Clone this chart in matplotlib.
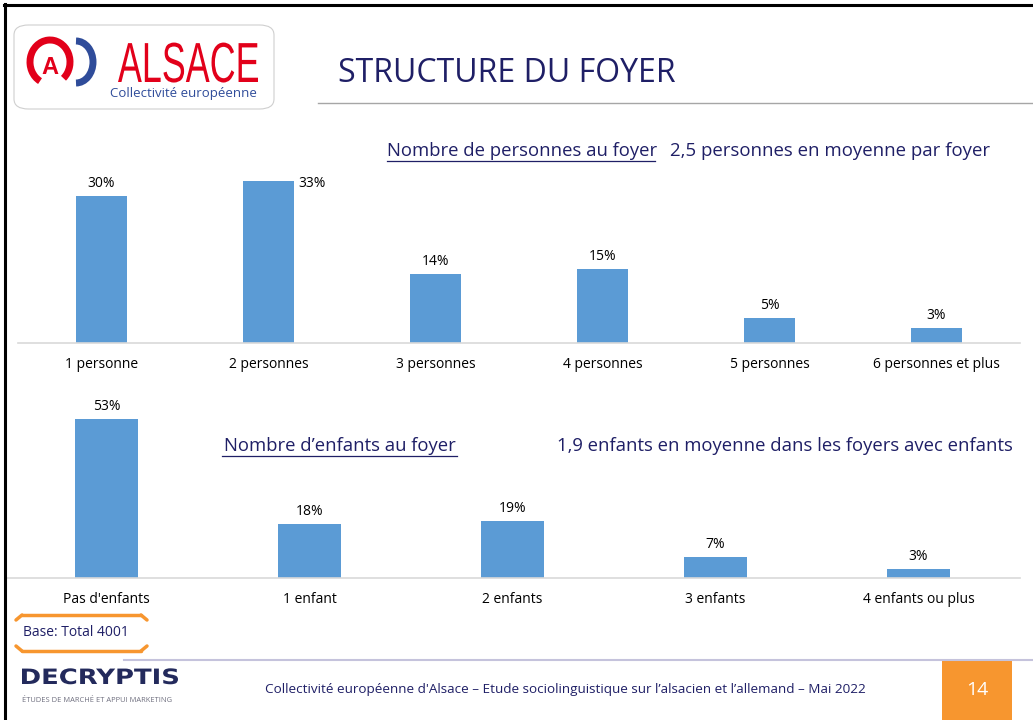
import matplotlib.pyplot as plt
from matplotlib.patches import FancyBboxPatch, Rectangle, Arc, PathPatch
from matplotlib.lines import Line2D
from matplotlib.textpath import TextPath
from matplotlib.font_manager import FontProperties
from matplotlib.transforms import Affine2D

# data
personnes_labels = ['1 personne', '2 personnes', '3 personnes', '4 personnes',
                    '5 personnes', '6 personnes et plus']
personnes_values = [30, 33, 14, 15, 5, 3]
enfants_labels = ["Pas d'enfants", '1 enfant', '2 enfants', '3 enfants', '4 enfants ou plus']
enfants_values = [53, 18, 19, 7, 3]

W, H = 1033, 720
NAVY = '#1f1f66'
BLUE = '#5b9bd5'
ORANGE = '#f7962f'
FONT = 'Open Sans'

plt.rcParams['font.family'] = [FONT, 'DejaVu Sans']

fig = plt.figure(figsize=(W / 100, H / 100), dpi=100)
fig.patch.set_facecolor('white')


def fx(x):
    return x / W


def fy(y):
    return 1 - y / H


def add_axes_px(x0, y0, x1, y1):
    # pixel box (top-left origin) -> figure axes
    return fig.add_axes([fx(x0), fy(y1), fx(x1 - x0), (y1 - y0) / H])


def stretched_text(s, x0, x1, y_top, y_base, color, family, weight='normal'):
    # text squeezed into a pixel box (for the logos)
    tp = TextPath((0, 0), s, size=1, prop=FontProperties(family=family, weight=weight))
    ext = tp.get_extents()
    sx = fx(x1 - x0) / ext.width
    sy = ((y_base - y_top) / H) / ext.height
    tr = Affine2D().translate(-ext.x0, 0).scale(sx, sy).translate(fx(x0), fy(y_base))
    fig.add_artist(PathPatch(tp, transform=tr + fig.transFigure, fc=color, ec='none', lw=0))


def bar_chart(ax, labels, values, width, ymax, label_offsets=None):
    pos = range(len(values))
    ax.bar(pos, values, width=width, color=BLUE, zorder=2)
    ax.set_xlim(-0.5, len(values) - 0.5)
    ax.set_ylim(0, ymax)
    ax.set_xticks(list(pos))
    ax.set_xticklabels(labels, fontsize=10, color='#000000')
    ax.tick_params(axis='x', length=0, pad=10)
    ax.set_yticks([])
    for s in ['top', 'right', 'left']:
        ax.spines[s].set_visible(False)
    ax.spines['bottom'].set_color('#d9d9d9')
    ax.spines['bottom'].set_linewidth(1.2)
    ax.patch.set_alpha(0)
    for i, v in enumerate(values):
        dx, dy, ha = (label_offsets or {}).get(i, (0, 5, 'center'))
        ax.annotate('%d%%' % v, (i + dx, v), xytext=(0, dy), textcoords='offset pixels',
                    ha=ha, va='bottom', fontsize=10, color='#000000')


# top chart
ax1 = add_axes_px(18, 171, 1020, 343)
bar_chart(ax1, personnes_labels, personnes_values, 0.31, 35.1,
          label_offsets={1: (0.18, -10, 'left')})

# bottom chart
ax2 = add_axes_px(5, 413, 1020, 578)
bar_chart(ax2, enfants_labels, enfants_values, 0.31, 55)

# frame of the slide
fig.add_artist(Line2D([fx(5), fx(5)], [fy(4), fy(720)], color='black', lw=2.2))
fig.add_artist(Line2D([fx(4), fx(1033)], [fy(5), fy(5)], color='black', lw=2.2))

# header
fig.add_artist(FancyBboxPatch((fx(14), fy(109)), fx(260), 84 / H,
                              boxstyle='round,pad=0,rounding_size=0.014',
                              fc='white', ec='#cfcfcf', lw=0.8))
fig.add_artist(Arc((fx(50), fy(62)), fx(40), 44 / H, theta1=-60, theta2=250,
                   color='#e2001a', lw=5))
fig.text(fx(50), fy(67), 'A', color='#e2001a', fontsize=17, fontweight='bold',
         ha='center', va='center', family=['Liberation Sans', 'DejaVu Sans'])
fig.add_artist(Arc((fx(76), fy(62)), fx(34), 42 / H, theta1=-90, theta2=90,
                   color='#2f4c9a', lw=5))
stretched_text('ALSACE', 118, 258, 42, 82, '#e2001a', 'Liberation Sans')
fig.text(fx(110), fy(93), 'Collectivité européenne', color='#2f4c9a', fontsize=9.5,
         ha='left', va='center')

fig.text(fx(338), fy(74), 'STRUCTURE DU FOYER', color=NAVY, fontsize=23,
         ha='left', va='center')
fig.add_artist(Line2D([fx(318), fx(1033)], [fy(103), fy(103)], color='#a6a6a6', lw=1))

# section titles
fig.text(fx(387), fy(151), 'Nombre de personnes au foyer', color=NAVY, fontsize=13.3,
         ha='left', va='center')
fig.add_artist(Line2D([fx(387), fx(655)], [fy(161), fy(161)], color=NAVY, lw=0.9))
fig.text(fx(670), fy(151), '2,5 personnes en moyenne par foyer', color=NAVY, fontsize=13.4,
         ha='left', va='center')

fig.text(fx(224), fy(446), 'Nombre d\u2019enfants au foyer', color=NAVY, fontsize=13.3,
         ha='left', va='center')
fig.add_artist(Line2D([fx(222), fx(457)], [fy(456), fy(456)], color=NAVY, lw=0.9))
fig.text(fx(557), fy(446), '1,9 enfants en moyenne dans les foyers avec enfants', color=NAVY,
         fontsize=13.3, ha='left', va='center')

# base box
fig.text(fx(76), fy(633), 'Base: Total 4001', color=NAVY, fontsize=10, ha='center', va='center')
for yy, sgn in [(615, 1), (651, -1)]:
    fig.add_artist(Line2D([fx(22), fx(141)], [fy(yy), fy(yy)], color=ORANGE, lw=2.5,
                          solid_capstyle='round'))
    fig.add_artist(Line2D([fx(16), fx(22)], [fy(yy + 5 * sgn), fy(yy)], color=ORANGE, lw=2.5,
                          solid_capstyle='round'))
    fig.add_artist(Line2D([fx(141), fx(147)], [fy(yy), fy(yy + 5 * sgn)], color=ORANGE, lw=2.5,
                          solid_capstyle='round'))

# footer
fig.add_artist(Line2D([fx(124), fx(1033)], [fy(660), fy(660)], color='#c5c3dc', lw=1.5))
stretched_text('DECRYPTIS', 22, 178, 668, 684, '#232a5c', 'DejaVu Sans', weight='bold')
fig.text(fx(22), fy(700), 'ÉTUDES DE MARCHÉ ET APPUI MARKETING', color='#6f6f7f', fontsize=5.4,
         ha='left', va='center')
fig.text(fx(565), fy(690),
         'Collectivité européenne d\'Alsace \u2013 Etude sociolinguistique sur l\u2019alsacien '
         'et l\u2019allemand \u2013 Mai 2022',
         color=NAVY, fontsize=9.7, ha='center', va='center')
fig.add_artist(Rectangle((fx(942), 0), fx(70), fy(661), color=ORANGE, lw=0))
fig.text(fx(977), fy(690), '14', color='white', fontsize=14, ha='center', va='center')

fig.savefig('out.png', dpi=100, facecolor='white')
